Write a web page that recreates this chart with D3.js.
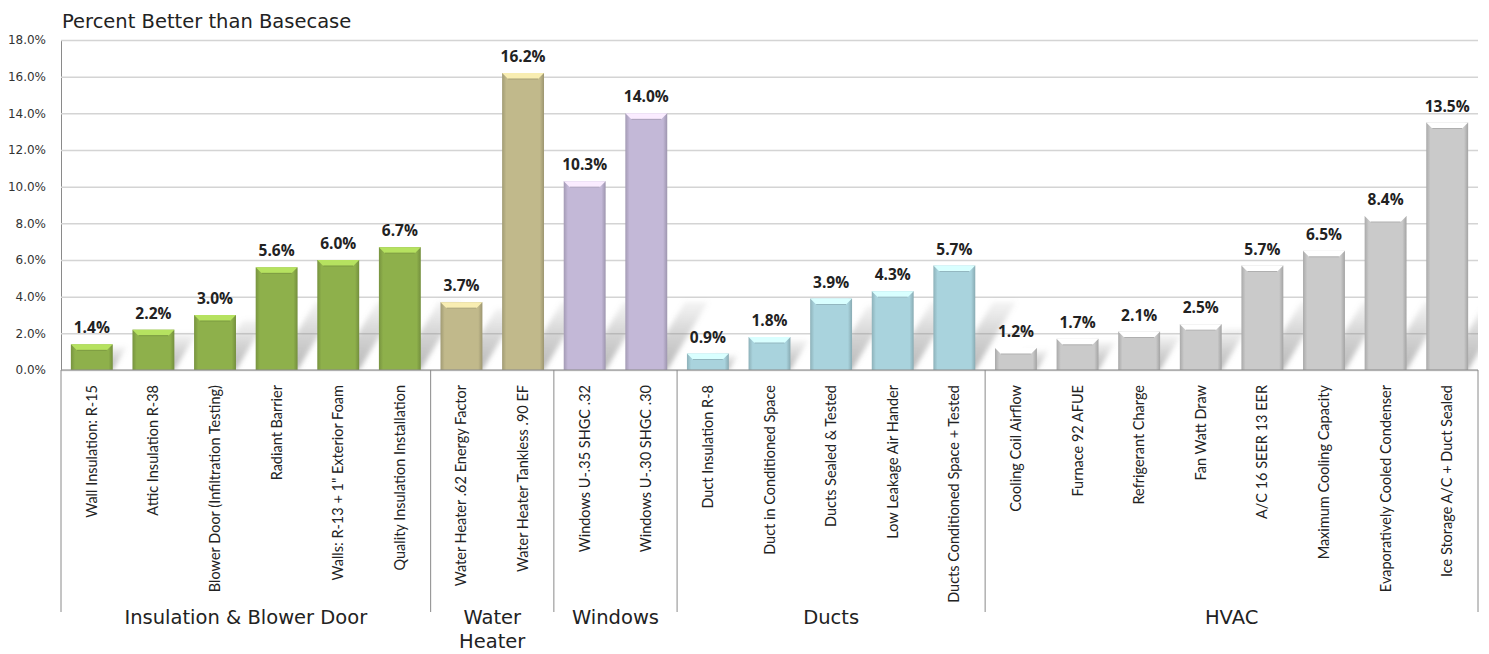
<!DOCTYPE html>
<html><head><meta charset="utf-8">
<script src="https://cdn.jsdelivr.net/npm/d3@7/dist/d3.min.js"></script>
<style>body{margin:0;background:#fff;}svg{display:block;font-family:"DejaVu Sans",sans-serif;}</style>
</head><body><svg id="c" width="1489" height="654"></svg>
<script>
const categories = ["Wall Insulation: R-15","Attic Insulation R-38","Blower Door (Infiltration Testing)","Radiant  Barrier","Walls: R-13 + 1\" Exterior Foam","Quality Insulation Installation",
"Water Heater .62 Energy Factor","Water Heater Tankless .90 EF",
"Windows  U-.35 SHGC .32","Windows U-.30  SHGC .30",
"Duct Insulation R-8","Duct in Conditioned Space","Ducts Sealed & Tested","Low Leakage Air Hander","Ducts Conditioned Space + Tested",
"Cooling Coil Airflow","Furnace 92 AFUE","Refrigerant Charge","Fan Watt Draw","A/C 16 SEER 13 EER","Maximum Cooling Capacity","Evaporatively Cooled Condenser","Ice Storage A/C + Duct Sealed"];
const values = [1.4,2.2,3.0,5.6,6.0,6.7,3.7,16.2,10.3,14.0,0.9,1.8,3.9,4.3,5.7,1.2,1.7,2.1,2.5,5.7,6.5,8.4,13.5];
const groups = ["Insulation & Blower Door","Water Heater","Windows","Ducts","HVAC"];
const groupSizes = [6,2,2,5,8];
const groupLabelLines = [["Insulation & Blower Door"],["Water","Heater"],["Windows"],["Ducts"],["HVAC"]];
const groupColors = ["#8eb04b","#c1b98b","#c3b8d7","#a9d3dd","#cacaca"];
const yTicks = [0,2,4,6,8,10,12,14,16,18];

const svg = d3.select("#c");
const L=61, R=1478, T=40, B=370, groupBottom=612;
const x = d3.scaleBand().domain(d3.range(categories.length)).range([L,R]).paddingInner(0.32).paddingOuter(0.16);
const y = d3.scaleLinear().domain([0,18]).range([B,T]);

const groupOf = [];
groupSizes.forEach((n,g)=>{for(let i=0;i<n;i++)groupOf.push(g);});

const defs = svg.append("defs");
groupColors.forEach((c,g)=>{
  const lg = defs.append("linearGradient").attr("id","g"+g).attr("x1",0).attr("x2",1).attr("y1",0).attr("y2",0);
  const cc=d3.color(c);
  lg.append("stop").attr("offset","0%").attr("stop-color",cc.darker(0.5));
  lg.append("stop").attr("offset","10%").attr("stop-color",c);
  lg.append("stop").attr("offset","90%").attr("stop-color",c);
  lg.append("stop").attr("offset","100%").attr("stop-color",cc.darker(0.6));
});
const sg = defs.append("linearGradient").attr("id","shadowg").attr("x1",0).attr("x2",0).attr("y1",0).attr("y2",1);
sg.append("stop").attr("offset","0%").attr("stop-color","#999").attr("stop-opacity",0.15);
sg.append("stop").attr("offset","50%").attr("stop-color","#888").attr("stop-opacity",0.5);
sg.append("stop").attr("offset","100%").attr("stop-color","#777").attr("stop-opacity",0.7);
defs.append("filter").attr("id","blur").attr("x","-20%").attr("y","-20%").attr("width","140%").attr("height","140%")
  .append("feGaussianBlur").attr("stdDeviation",2.5);
defs.append("clipPath").attr("id","plotclip").append("rect").attr("x",L).attr("y",T).attr("width",R-L).attr("height",B-T);

// title
svg.append("text").attr("x",62).attr("y",28).attr("font-size",19.5).attr("fill","#222").text("Percent Better than Basecase");

// gridlines
const yAxis = d3.axisLeft(y).tickValues(yTicks).tickSize(-(R-L)).tickFormat(d=>d3.format(".1f")(d)+"%");
const ga = svg.append("g").attr("transform",`translate(${L},0)`).call(yAxis);
ga.select(".domain").attr("stroke","#8a8a8a");
ga.selectAll(".tick line").attr("stroke","#d4d4d4").attr("stroke-width",1.5);
ga.selectAll(".tick text").attr("x",-15).attr("font-size",12).attr("fill","#333").attr("font-family","'DejaVu Sans',sans-serif");

// shadows
const bw = x.bandwidth();
svg.append("g").attr("clip-path","url(#plotclip)").append("g").attr("filter","url(#blur)")
  .selectAll("path").data(values).join("path")
  .attr("d",(v,i)=>{
    const x0=x(i), h=Math.min((B-y(v))*0.9,68), s=h*0.6;
    return `M${x0+bw*0.45},${B} L${x0+bw},${B} L${x0+bw+s},${B-h} L${x0+bw*0.45+s},${B-h}Z`;
  }).attr("fill","url(#shadowg)").attr("opacity",0.75);

// bars
const bars = svg.append("g").selectAll("g").data(values).join("g");
bars.append("rect").attr("x",(v,i)=>x(i)).attr("y",v=>y(v)).attr("width",bw).attr("height",v=>B-y(v))
  .attr("fill",(v,i)=>`url(#g${groupOf[i]})`);
bars.append("path").attr("d",(v,i)=>{const x0=x(i),y0=y(v);return `M${x0},${y0} L${x0+bw},${y0} L${x0+bw-6},${y0+6} L${x0+6},${y0+6}Z`;})
  .attr("fill",(v,i)=>d3.color(groupColors[groupOf[i]]).brighter(0.7));
bars.append("line").attr("x1",(v,i)=>x(i)+6).attr("x2",(v,i)=>x(i)+bw-6).attr("y1",v=>y(v)+6).attr("y2",v=>y(v)+6)
  .attr("stroke",(v,i)=>d3.color(groupColors[groupOf[i]]).darker(0.4)).attr("stroke-width",1);

// value labels
svg.append("g").selectAll("text").data(values).join("text")
  .attr("x",(v,i)=>x(i)+bw/2).attr("y",v=>y(v)-11).attr("text-anchor","middle")
  .attr("font-size",15.5).attr("font-weight","bold").attr("fill","#222").attr("font-family","'Open Sans',sans-serif")
  .text(v=>d3.format(".1f")(v)+"%");

// baseline
svg.append("line").attr("x1",L).attr("x2",R).attr("y1",B).attr("y2",B).attr("stroke","#8a8a8a");

// category labels
svg.append("g").selectAll("text").data(categories).join("text")
  .attr("transform",(c,i)=>`translate(${x(i)+bw/2+5},385) rotate(-90)`)
  .attr("text-anchor","end").attr("font-size",14.5).attr("fill","#222").attr("font-family","Lato,'Open Sans',sans-serif")
  .text(d=>d);

// group dividers and labels
let start=0;
const bounds=[L];
groupSizes.forEach(n=>{start+=n;bounds.push(L+(R-L)*start/categories.length);});
svg.append("g").selectAll("line").data(bounds).join("line")
  .attr("x1",d=>d).attr("x2",d=>d).attr("y1",B).attr("y2",groupBottom).attr("stroke","#8a8a8a");
svg.append("g").selectAll("text").data(groups).join("text")
  .attr("x",(g,i)=>(bounds[i]+bounds[i+1])/2).attr("y",624).attr("text-anchor","middle")
  .attr("font-size",19.5).attr("fill","#222")
  .each(function(g,i){
    const t=d3.select(this);
    groupLabelLines[i].forEach((ln,j)=>t.append("tspan").attr("x",(bounds[i]+bounds[i+1])/2).attr("dy",j?24:0).text(ln));
  });
</script></body></html>
